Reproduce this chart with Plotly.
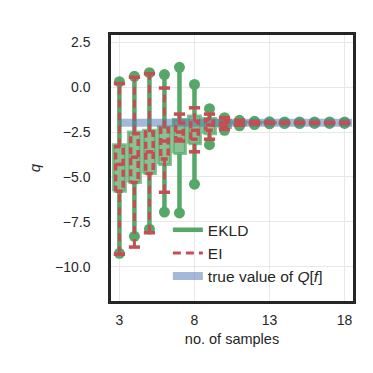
import plotly.graph_objects as go

# one box + whisker per sample count, for each acquisition function
n_samples = list(range(3, 19))

ekld_min = [-9.25, -8.3, -7.9, -6.95, -7.0, -5.4, -3.2, -2.4, -2.15, -2.08, -2.04, -2.03, -2.03, -2.02, -2.02, -2.02]
ekld_q1 = [-5.8, -5.3, -4.8, -4.3, -3.7, -3.15, -2.6, -2.25, -2.08, -2.03, -2.01, -2.0, -2.0, -2.0, -2.0, -2.0]
ekld_med = [-4.5, -4.0, -3.6, -3.2, -2.7, -2.4, -2.2, -2.05, -2.0, -1.99, -1.98, -1.98, -1.98, -1.98, -1.98, -1.98]
ekld_q3 = [-3.2, -2.5, -2.4, -2.2, -1.8, -1.6, -1.75, -1.85, -1.92, -1.95, -1.96, -1.96, -1.96, -1.96, -1.96, -1.96]
ekld_max = [0.3, 0.6, 0.8, 0.7, 1.1, 0.15, -1.2, -1.7, -1.85, -1.9, -1.93, -1.94, -1.94, -1.94, -1.94, -1.94]

ei_min = [-9.3, -8.9, -8.1, -5.85, -3.0, -3.6, -2.9, -2.35, -2.12, -2.05, -2.01, -2.0, -2.0, -2.0, -2.0, -2.0]
ei_q1 = [-5.8, -5.3, -4.8, -4.0, -2.9, -2.9, -2.4, -2.2, -2.05, -2.01, -1.99, -1.99, -1.99, -1.99, -1.99, -1.99]
ei_med = [-4.3, -3.9, -3.6, -3.0, -2.5, -2.4, -2.1, -2.0, -1.98, -1.98, -1.98, -1.98, -1.98, -1.98, -1.98, -1.98]
ei_q3 = [-3.3, -2.6, -2.5, -2.3, -2.0, -1.9, -1.8, -1.85, -1.92, -1.95, -1.97, -1.97, -1.97, -1.97, -1.97, -1.97]
ei_max = [0.2, 0.55, 0.75, -0.05, -1.5, -1.15, -1.5, -1.7, -1.85, -1.92, -1.95, -1.96, -1.96, -1.96, -1.96, -1.96]

true_q = -1.98

y_ticks = [2.5, 0.0, -2.5, -5.0, -7.5, -10.0]
x_ticks = [3, 8, 13, 18]

GREEN = "#55a868"
GREEN_BOX = "rgba(85,168,104,0.7)"
RED = "#c44e52"
BLUE = "rgba(76,114,176,0.5)"
INK = "#262626"
FONT = "Liberation Sans, Arial, sans-serif"


def boxes(xs, lo, hi, hw):
    px, py = [], []
    for x, a, b in zip(xs, lo, hi):
        px += [x - hw, x + hw, x + hw, x - hw, x - hw, None]
        py += [a, a, b, b, a, None]
    return px, py


def whiskers(xs, mn, q1, q3, mx):
    px, py = [], []
    for x, a, b, c, d in zip(xs, mn, q1, q3, mx):
        px += [x, x, None, x, x, None]
        py += [a, b, None, c, d, None]
    return px, py


def medians(xs, med, hw):
    px, py = [], []
    for x, m in zip(xs, med):
        px += [x - hw, x + hw, None]
        py += [m, m, None]
    return px, py


fig = go.Figure()

# EKLD
bx, by = boxes(n_samples, ekld_q1, ekld_q3, 0.4)
fig.add_trace(go.Scatter(x=bx, y=by, mode="lines", fill="toself",
                         fillcolor=GREEN_BOX, line=dict(color=GREEN_BOX, width=3),
                         showlegend=False, hoverinfo="skip"))
wx, wy = whiskers(n_samples, ekld_min, ekld_q1, ekld_q3, ekld_max)
fig.add_trace(go.Scatter(x=wx, y=wy, mode="lines", name="EKLD", legendrank=1,
                         line=dict(color=GREEN, width=4.5)))
fig.add_trace(go.Scatter(x=n_samples * 2, y=ekld_min + ekld_max, mode="markers",
                         marker=dict(color=GREEN, size=11, symbol="circle"),
                         showlegend=False, hoverinfo="skip"))

# true value
fig.add_trace(go.Scatter(x=[n_samples[0], n_samples[-1] + 0.5], y=[true_q, true_q],
                         mode="lines", name="true value of <i>Q</i>[<i>f</i>]",
                         legendrank=3, line=dict(color=BLUE, width=8)))

# EI
bx, by = boxes(n_samples, ei_q1, ei_q3, 0.25)
fig.add_trace(go.Scatter(x=bx, y=by, mode="lines",
                         line=dict(color=RED, width=3.5, dash="7px,4px"),
                         showlegend=False, hoverinfo="skip"))
mx, my = medians(n_samples, ei_med, 0.25)
fig.add_trace(go.Scatter(x=mx, y=my, mode="lines", line=dict(color=RED, width=3.5),
                         showlegend=False, hoverinfo="skip"))
wx, wy = whiskers(n_samples, ei_min, ei_q1, ei_q3, ei_max)
fig.add_trace(go.Scatter(x=wx, y=wy, mode="lines", name="EI", legendrank=2,
                         line=dict(color=RED, width=3, dash="8px,5px")))
fig.add_trace(go.Scatter(x=n_samples * 2, y=ei_min + ei_max, mode="markers",
                         marker=dict(color=RED, size=8, symbol="line-ew",
                                     line=dict(color=RED, width=3.5)),
                         showlegend=False, hoverinfo="skip"))

axis_common = dict(showgrid=True, gridcolor="#e8e8e8", gridwidth=1, zeroline=False,
                   showline=True, mirror=True, linewidth=2.5, linecolor=INK,
                   ticks="", tickfont=dict(size=14, color=INK, family=FONT))

fig.update_layout(
    width=373, height=373, autosize=False,
    paper_bgcolor="white", plot_bgcolor="white",
    font=dict(family=FONT, size=14, color=INK),
    margin=dict(l=103, r=28, t=27, b=80),
    xaxis=dict(range=[2.44, 18.56], tickvals=x_ticks, ticklabelstandoff=4,
               title=dict(text="no. of samples", standoff=8,
                          font=dict(size=14.5)), **axis_common),
    yaxis=dict(range=[-11.9, 2.9], tickvals=y_ticks,
               ticktext=[f"{v:.1f}".replace("-", "\u2212") for v in y_ticks],
               ticklabelstandoff=15,
               title=dict(text="<i>q</i>", standoff=11, font=dict(size=15)),
               **axis_common),
    legend=dict(x=0.235, y=0.33, xanchor="left", yanchor="top",
                bgcolor="rgba(0,0,0,0)", font=dict(size=15.5, color=INK),
                itemwidth=30, tracegroupgap=0),
)

fig.write_html("out.html")
